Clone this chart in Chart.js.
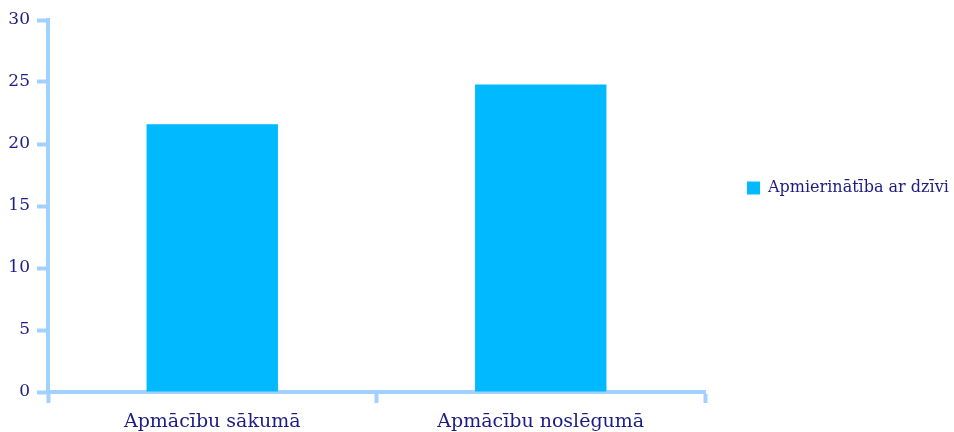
<!DOCTYPE html>
<html>
<head>
<meta charset="utf-8">
<script src="https://cdn.jsdelivr.net/npm/chart.js@4.4.1/dist/chart.umd.min.js"></script>
<style>
    html, body { margin: 0; padding: 0; background: #fff; overflow: hidden; }
    canvas { display: block; }
</style>
</head>
<body>
<canvas id="myChart" width="954" height="450"></canvas>
<script>
var categories = ['Apmācību sākumā', 'Apmācību noslēgumā'];
var seriesName = 'Apmierinātība ar dzīvi';
var seriesValues = [21.6, 24.8];
var yTicks = [0, 5, 10, 15, 20, 25, 30];

var textColor = '#1c1c84';
var axisColor = '#a3d1ff';
var barColor = '#00b9ff';
var fontFamily = "'DejaVu Serif', 'Liberation Serif', serif";

// keep the legend column a fixed width and put the item where we want it
var legendSlot = {
    id: 'legendSlot',
    beforeUpdate: function (chart) {
        var lg = chart.legend;
        if (lg && !lg._slotPatched) {
            var fit = lg.fit;
            lg.fit = function () {
                fit.call(this);
                this.width = 249;
            };
            lg._slotPatched = true;
        }
    },
    afterLayout: function (chart) {
        var lg = chart.legend;
        lg.left = 737;
        lg.right = 954;
        lg.top = 170;
        lg.bottom = 214;
    }
};

var ctx = document.getElementById('myChart');
window.myBar = new Chart(ctx, {
    type: 'bar',
    data: {
        labels: categories,
        datasets: [{
            label: seriesName,
            data: seriesValues,
            backgroundColor: barColor,
            borderWidth: 0,
            barPercentage: 0.4,
            categoryPercentage: 1
        }]
    },
    plugins: [legendSlot],
    options: {
        responsive: false,
        animation: false,
        devicePixelRatio: 1,
        layout: { padding: { top: 20, right: 0, bottom: 0, left: 0 } },
        plugins: {
            tooltip: { enabled: false },
            legend: {
                position: 'right',
                align: 'start',
                labels: {
                    boxWidth: 13,
                    boxHeight: 13,
                    padding: 10,
                    color: textColor,
                    font: { family: fontFamily, size: 16 }
                }
            }
        },
        scales: {
            x: {
                offset: true,
                afterFit: function (scale) { scale.height = 58; },
                border: { display: true, color: axisColor, width: 4 },
                grid: {
                    display: true,
                    offset: true,
                    drawOnChartArea: false,
                    drawTicks: true,
                    tickLength: 11,
                    tickWidth: 4,
                    tickColor: axisColor,
                    color: axisColor
                },
                ticks: {
                    color: textColor,
                    padding: 8,
                    maxRotation: 0,
                    font: { family: fontFamily, size: 19 }
                }
            },
            y: {
                min: 0,
                max: 30,
                afterFit: function (scale) { scale.width = 48; },
                afterBuildTicks: function (scale) {
                    scale.ticks = yTicks.map(function (v) { return { value: v }; });
                },
                border: { display: true, color: axisColor, width: 4 },
                grid: {
                    display: true,
                    drawOnChartArea: false,
                    drawTicks: true,
                    tickLength: 11,
                    tickWidth: 4,
                    tickColor: axisColor,
                    color: axisColor
                },
                ticks: {
                    color: textColor,
                    padding: 7,
                    font: { family: fontFamily, size: 17 }
                }
            }
        }
    }
});
</script>
</body>
</html>
